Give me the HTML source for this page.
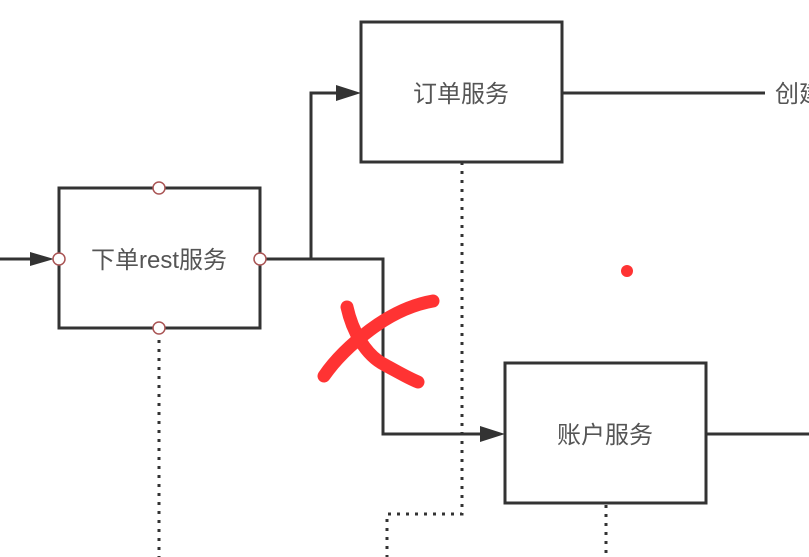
<!DOCTYPE html>
<html><head><meta charset="utf-8"><style>
html,body{margin:0;padding:0;background:#fff;width:809px;height:557px;overflow:hidden}
text{font-family:"Liberation Sans","Noto Sans CJK SC",sans-serif;fill:#555;font-size:24px}
</style></head><body>
<svg width="809" height="557" viewBox="0 0 809 557" xmlns="http://www.w3.org/2000/svg">
<g stroke="#333" stroke-width="3" fill="none">
<rect x="361" y="22" width="201" height="140"/>
<rect x="59" y="188" width="201" height="140"/>
<rect x="505" y="363" width="201" height="140"/>
<line x1="562" y1="93" x2="765" y2="93"/>
<line x1="706" y1="434" x2="809" y2="434"/>
<polyline points="260,259 383,259 383,434 480,434"/>
<polyline points="311,259 311,93 336,93"/>
<line x1="0" y1="259" x2="34" y2="259"/>
</g>
<g fill="#333">
<path d="M336,85 L361,93 L336,101z"/>
<path d="M480,426 L505,434 L480,442z"/>
<path d="M30,252 L54,259 L30,266z"/>
</g>
<g stroke="#333" stroke-width="3" fill="none" stroke-dasharray="3,6">
<polyline points="462,162 462,514 387,514 387,557"/>
<line x1="159" y1="331" x2="159" y2="557"/>
<line x1="606" y1="505" x2="606" y2="557"/>
</g>
<g fill="#fff" stroke="#a55" stroke-width="1.5">
<circle cx="159" cy="188" r="6"/><circle cx="159" cy="328" r="6"/>
<circle cx="59" cy="259" r="6"/><circle cx="260" cy="259" r="6"/>
</g>
<text x="159" y="268" text-anchor="middle">下单rest服务</text>
<text x="461" y="102" text-anchor="middle">订单服务</text>
<text x="605" y="443" text-anchor="middle">账户服务</text>
<text x="775" y="102">创建</text>
<g stroke="#f33" stroke-width="13" stroke-linecap="round" fill="none">
<path d="M347,307 C352,330 365,355 385,365 C398,372 408,378 418,382"/>
<path d="M433,301 C410,305 390,315 370,330 C350,345 335,360 324,376"/>
</g>
<circle cx="627" cy="271" r="6" fill="#f33"/>
</svg>
</body></html>
